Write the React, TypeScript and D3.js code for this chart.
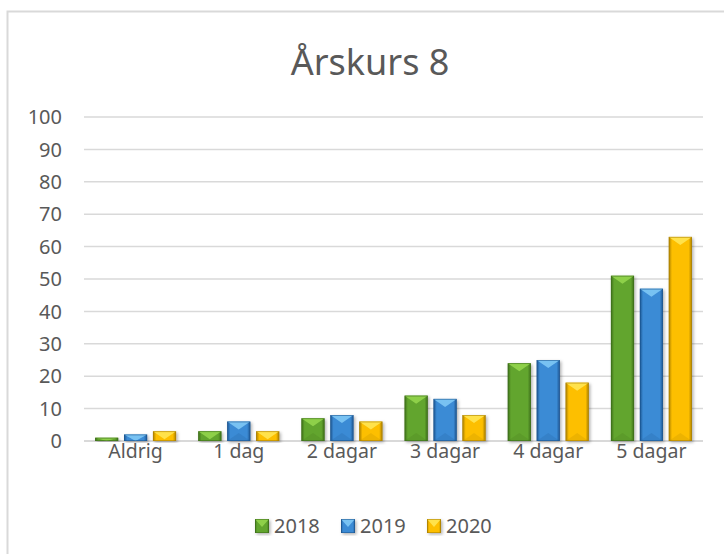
import * as d3 from "d3";

const categories = ["Aldrig", "1 dag", "2 dagar", "3 dagar", "4 dagar", "5 dagar"];
const seriesNames = ["2018", "2019", "2020"];
const values2018 = [1, 3, 7, 14, 24, 51];
const values2019 = [2, 6, 8, 13, 25, 47];
const values2020 = [3, 3, 6, 8, 18, 63];
const yTicks = [0, 10, 20, 30, 40, 50, 60, 70, 80, 90, 100];

const seriesValues = [values2018, values2019, values2020];

// main / light / dark per series
const palette = [
  { main: "#62a52e", light: "#93d54e", dark: "#3d6e1a" },
  { main: "#3b8bd5", light: "#80c8f5", dark: "#1d5590" },
  { main: "#fdbf00", light: "#ffe653", dark: "#a97f00" },
];

const font = "'Noto Sans', 'Open Sans', sans-serif";
const textColor = "#595959";

function Bar({ x, y, w, h, i }: { x: number; y: number; w: number; h: number; i: number }) {
  const c = palette[i];
  const t = Math.min(8, h);
  const tb = Math.min(8, h / 2);
  return (
    <g filter="url(#shadow)">
      <rect x={x} y={y} width={w} height={h} fill={`url(#grad${i})`} />
      <polygon
        points={`${x},${y} ${x + w},${y} ${x + w / 2},${y + t}`}
        fill={c.light}
        opacity={0.9}
      />
      {h > 14 && (
        <polygon
          points={`${x},${y + h} ${x + w},${y + h} ${x + w / 2},${y + h - tb}`}
          fill={c.dark}
          opacity={0.18}
        />
      )}
      <rect x={x + 0.4} y={y + 0.4} width={w - 0.8} height={Math.max(0, h - 0.8)} fill="none" stroke={c.dark} strokeWidth={0.8} opacity={0.7} />
    </g>
  );
}

export default function App() {
  const width = 724;
  const height = 554;
  const plot = { left: 84, right: 703, top: 117, bottom: 441 };

  const x0 = d3.scaleBand<string>().domain(categories).range([plot.left, plot.right]);
  const groupW = 81;
  const x1 = d3
    .scaleBand<string>()
    .domain(seriesNames)
    .range([(x0.bandwidth() - groupW) / 2, (x0.bandwidth() + groupW) / 2])
    .paddingInner(0.2);
  const y = d3.scaleLinear().domain([0, 100]).range([plot.bottom, plot.top]);

  const legendItems = [
    { name: "2018", x: 255 },
    { name: "2019", x: 341 },
    { name: "2020", x: 427 },
  ];

  return (
    <div style={{ position: "fixed", left: 0, top: 0 }}>
      <svg width={width} height={height} style={{ display: "block", background: "#fff" }}>
        <defs>
          {palette.map((c, i) => (
            <linearGradient key={i} id={`grad${i}`} x1="0" x2="1" y1="0" y2="0">
              <stop offset="0%" stopColor={c.dark} />
              <stop offset="14%" stopColor={c.main} />
              <stop offset="50%" stopColor={c.main} />
              <stop offset="86%" stopColor={c.main} />
              <stop offset="100%" stopColor={c.dark} />
            </linearGradient>
          ))}
          <filter id="shadow" x="-30%" y="-10%" width="160%" height="130%">
            <feDropShadow dx="1.5" dy="1.5" stdDeviation="1.5" floodColor="#000" floodOpacity="0.3" />
          </filter>
        </defs>

        <rect x={7.5} y={11.5} width={740} height={560} fill="#fff" stroke="#d9d9d9" strokeWidth={2} />

        <text x={370} y={75} textAnchor="middle" fontFamily={font} fontSize={36} fill={textColor}>
          Årskurs 8
        </text>

        {yTicks.map((t) => (
          <g key={t}>
            <line x1={plot.left} x2={plot.right} y1={y(t)} y2={y(t)} stroke="#d9d9d9" strokeWidth={t === 0 ? 2 : 1.5} />
            <text x={62} y={y(t)} dy="0.36em" textAnchor="end" fontFamily={font} fontSize={20} fill={textColor}>
              {t}
            </text>
          </g>
        ))}

        {categories.map((cat, ci) => (
          <g key={cat} transform={`translate(${x0(cat)},0)`}>
            {seriesNames.map((s, si) => {
              const v = seriesValues[si][ci];
              const yy = y(v);
              return <Bar key={s} x={x1(s)!} y={yy} w={x1.bandwidth()} h={plot.bottom - yy} i={si} />;
            })}
            <text x={x0.bandwidth() / 2} y={458} textAnchor="middle" fontFamily={font} fontSize={19.5} fill={textColor}>
              {cat}
            </text>
          </g>
        ))}

        {legendItems.map((l, i) => (
          <g key={l.name}>
            <Bar x={l.x} y={519} w={14} h={14} i={i} />
            <text x={l.x + 19} y={526} dy="0.36em" fontFamily={font} fontSize={20} fill={textColor}>
              {l.name}
            </text>
          </g>
        ))}
      </svg>
    </div>
  );
}
